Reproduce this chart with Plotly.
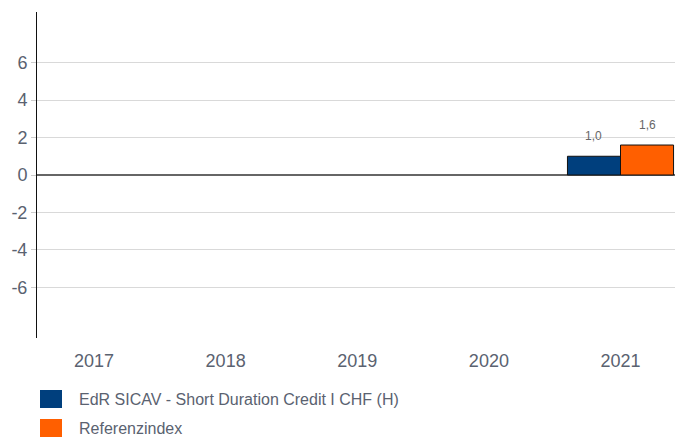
import plotly.graph_objects as go

years = ["2017", "2018", "2019", "2020", "2021"]
fund_name = "EdR SICAV - Short Duration Credit I CHF (H)"
index_name = "Referenzindex"
fund_values = [None, None, None, None, 1.0]
index_values = [None, None, None, None, 1.6]
y_ticks = [-6, -4, -2, 0, 2, 4, 6]
y_tick_text = ["-6", "-4", "-2", "0", "2", "4", "6"]

BLUE = "#003F7D"
ORANGE = "#FF5F00"
TXT = "#5A6270"
FONT = "Liberation Sans, Arial, sans-serif"
BARGAP = 0.194

W, H = 675, 437
ML, MT, MB = 37, 12, 99
PW, PH = W - ML, H - MT - MB

fig = go.Figure()
for name, vals, col, side in [(fund_name, fund_values, BLUE, -1), (index_name, index_values, ORANGE, 1)]:
    fig.add_trace(go.Bar(x=years, y=vals, name=name,
                         marker=dict(color=col, line=dict(color="#111", width=1)),
                         showlegend=False))
    for i, v in enumerate(vals):
        if v is None:
            continue
        fig.add_annotation(x=i + side * (1 - BARGAP) / 4, y=v, xref="x", yref="y",
                           text=f"{v:.1f}".replace(".", ","), showarrow=False,
                           yanchor="bottom", yshift=11,
                           font=dict(size=12, color="#666", family=FONT))

# custom legend
for i, (nm, col) in enumerate([(fund_name, BLUE), (index_name, ORANGE)]):
    yc = 399 + i * 29
    fig.add_shape(type="rect", xref="paper", yref="paper",
                  x0=(40 - ML) / PW, x1=(62 - ML) / PW,
                  y0=(H - MB - (yc + 9)) / PH, y1=(H - MB - (yc - 9)) / PH,
                  fillcolor=col, line=dict(width=0))
    fig.add_annotation(xref="paper", yref="paper", x=(77 - ML) / PW, y=(H - MB - yc) / PH,
                       text=nm, showarrow=False, xanchor="left", yanchor="middle",
                       font=dict(size=16, color=TXT, family=FONT))

fig.update_layout(
    width=W, height=H, margin=dict(l=ML, r=0, t=MT, b=MB, pad=0),
    paper_bgcolor="white", plot_bgcolor="white",
    barmode="group", bargap=BARGAP, bargroupgap=0,
    separators=",.", showlegend=False,
    font=dict(family=FONT, color=TXT),
    xaxis=dict(type="category", range=[-0.433, 4.414], showline=False, ticks="", showgrid=False,
               tickfont=dict(size=18, color=TXT), ticklabelstandoff=10),
    yaxis=dict(range=[-8.7, 8.7], tickvals=y_ticks, ticktext=y_tick_text,
               showline=True, linecolor="#111", linewidth=1,
               ticks="outside", ticklen=5, tickcolor="#ccc", gridcolor="#d9d9d9",
               zeroline=True, zerolinecolor="#666", zerolinewidth=1.5,
               tickfont=dict(size=18, color=TXT)),
)
post = ("document.documentElement.style.overflow='hidden';"
        "document.body.style.margin='0';document.body.style.overflow='hidden';"
        "Plotly.relayout('{plot_id}', {width: %d, height: %d});" % (W, H))
fig.write_html("out.html", post_script=post, config={"displayModeBar": False})
